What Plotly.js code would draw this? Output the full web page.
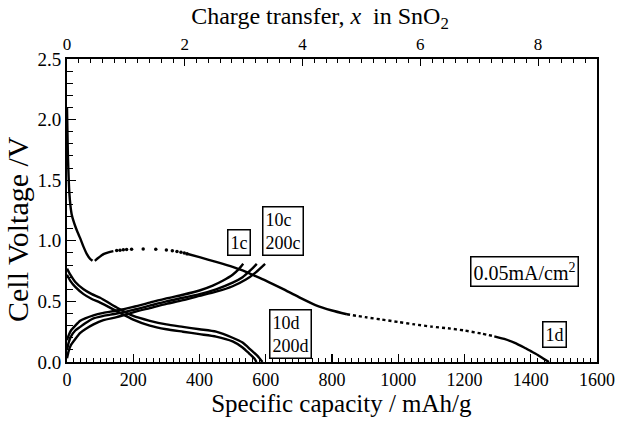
<!DOCTYPE html>
<html>
<head>
<meta charset="utf-8">
<script src="https://cdn.plot.ly/plotly-3.0.1.min.js"></script>
<style>html,body{margin:0;padding:0;background:#fff;}#chart{width:629px;height:424px;}</style>
</head>
<body>
<div id="chart"></div>
<script>
// ---- Data (specific capacity in mAh/g, cell voltage in V) ----
// First discharge (1d), split by drawing style of the original
var d1StartCap = [0, 1, 2, 3, 5, 7, 10, 14, 20, 25, 32, 40, 50, 60, 70, 77];
var d1StartV   = [2.1, 1.95, 1.8, 1.68, 1.52, 1.4, 1.3, 1.22, 1.16, 1.12, 1.07, 1.02, 0.95, 0.89, 0.85, 0.835];
var d1RiseCap  = [84, 95, 110, 125, 140];
var d1RiseV    = [0.835, 0.86, 0.89, 0.905, 0.915];
var d1DotCap   = [150, 160, 170, 180, 195, 230, 268, 300, 318, 332, 344, 354, 362];
var d1DotV     = [0.92, 0.923, 0.926, 0.928, 0.93, 0.932, 0.93, 0.925, 0.918, 0.912, 0.905, 0.899, 0.893];
var d1MidCap   = [362, 400, 450, 500, 530, 560, 600, 650, 700, 750, 800, 845];
var d1MidV     = [0.893, 0.865, 0.826, 0.785, 0.755, 0.72, 0.672, 0.605, 0.535, 0.47, 0.425, 0.394];
var d1TailCap  = [845, 900, 950, 1000, 1050, 1100, 1150, 1200, 1250, 1290];
var d1TailV    = [0.394, 0.37, 0.35, 0.33, 0.31, 0.292, 0.278, 0.26, 0.235, 0.212];
var d1EndCap   = [1290, 1320, 1350, 1380, 1400, 1420, 1440, 1455];
var d1EndV     = [0.212, 0.19, 0.16, 0.12, 0.09, 0.06, 0.025, 0];

// Charge curves
var c1Cap   = [0, 5, 12, 25, 40, 55, 80, 110, 150, 200, 250, 300, 350, 400, 440, 470, 500, 520, 532];
var c1V     = [0.18, 0.22, 0.26, 0.3, 0.34, 0.36, 0.385, 0.405, 0.425, 0.455, 0.49, 0.525, 0.555, 0.59, 0.63, 0.67, 0.72, 0.77, 0.81];
var c10Cap  = [0, 5, 12, 25, 40, 55, 80, 110, 150, 200, 250, 300, 350, 400, 450, 500, 530, 555, 573];
var c10V    = [0.1, 0.16, 0.21, 0.26, 0.29, 0.32, 0.36, 0.38, 0.4, 0.43, 0.465, 0.5, 0.53, 0.56, 0.6, 0.655, 0.7, 0.76, 0.81];
var c200Cap = [0, 5, 12, 25, 40, 55, 80, 110, 150, 200, 250, 300, 350, 400, 450, 500, 540, 570, 598];
var c200V   = [0.03, 0.09, 0.14, 0.19, 0.24, 0.27, 0.31, 0.345, 0.37, 0.41, 0.445, 0.48, 0.51, 0.545, 0.58, 0.625, 0.68, 0.74, 0.81];

// Later discharge curves
var d10Cap  = [0, 10, 25, 50, 75, 100, 150, 200, 250, 300, 350, 400, 450, 500, 530, 550, 565, 572];
var d10V    = [0.72, 0.67, 0.62, 0.56, 0.52, 0.49, 0.42, 0.35, 0.3, 0.27, 0.25, 0.23, 0.21, 0.17, 0.12, 0.07, 0.03, 0];
var d200Cap = [0, 10, 25, 50, 75, 100, 150, 200, 250, 300, 350, 400, 450, 500, 530, 555, 575, 590];
var d200V   = [0.77, 0.72, 0.66, 0.6, 0.56, 0.53, 0.45, 0.38, 0.34, 0.31, 0.29, 0.27, 0.25, 0.2, 0.16, 0.1, 0.05, 0];

// Axis ranges and tick labels
var capRange = [0, 1600];
var xRange   = [0, 9.0];   // charge transfer x in SnO2 (1600 mAh/g ~ 9 Li)
var vRange   = [0, 2.5];
var capTickVals = [0, 200, 400, 600, 800, 1000, 1200, 1400, 1600];
var capTickText = ['0', '200', '400', '600', '800', '1000', '1200', '1400', '1600'];
var xTickVals = [0, 2, 4, 6, 8];
var xTickText = ['0', '2', '4', '6', '8'];
var vTickVals = [0, 0.5, 1.0, 1.5, 2.0, 2.5];
var vTickText = ['0.0', '0.5', '1.0', '1.5', '2.0', '2.5'];

var labels = [
  {text: '1c', cap: 519, v: 0.99, size: 18},
  {text: '10c<br>200c', cap: 652, v: 1.08, size: 18},
  {text: '10d<br>200d', cap: 676, v: 0.227, size: 18},
  {text: '1d', cap: 1473, v: 0.223, size: 18},
  {text: '0.05mA/cm<sup>2</sup>', cap: 1380, v: 0.745, size: 20}
];

var FONT = 'Liberation Serif';
var lw = 2.4;
function lineTrace(x, y, dash) {
  return {x: x, y: y, type: 'scatter', mode: 'lines', line: {color: '#000', width: lw, dash: dash || 'solid', shape: 'spline', smoothing: 0.6}, hoverinfo: 'skip', showlegend: false};
}

var traces = [
  lineTrace(d1StartCap, d1StartV),
  lineTrace(d1RiseCap, d1RiseV),
  {x: d1DotCap, y: d1DotV, type: 'scatter', mode: 'markers', marker: {color: '#000', size: 3.5}, hoverinfo: 'skip', showlegend: false},
  lineTrace(d1MidCap, d1MidV),
  lineTrace(d1TailCap, d1TailV, 'dot'),
  lineTrace(d1EndCap, d1EndV),
  lineTrace(c1Cap, c1V),
  lineTrace(c10Cap, c10V),
  lineTrace(c200Cap, c200V),
  lineTrace(d10Cap, d10V),
  lineTrace(d200Cap, d200V),
  // invisible trace to activate the top axis
  {x: xRange, y: [0, 0], xaxis: 'x2', yaxis: 'y', type: 'scatter', mode: 'lines', line: {width: 0}, hoverinfo: 'skip', showlegend: false}
];

var annotations = labels.map(function (l) {
  return {x: l.cap, y: l.v, xref: 'x', yref: 'y', text: l.text, showarrow: false,
    font: {family: FONT, size: l.size, color: '#000'}, bordercolor: '#000', borderwidth: 1.5, borderpad: 2, bgcolor: '#fff', align: 'left'};
});

var layout = {
  width: 629, height: 424,
  margin: {l: 67, r: 32, t: 59, b: 62, pad: 0},
  paper_bgcolor: '#fff', plot_bgcolor: '#fff',
  font: {family: FONT, size: 18, color: '#000'},
  showlegend: false,
  xaxis: {
    range: capRange, tickmode: 'array', tickvals: capTickVals, ticktext: capTickText,
    ticks: 'inside', ticklen: 8, tickwidth: 1.2, tickcolor: '#000',
    minor: {tickmode: 'linear', tick0: 0, dtick: 20, ticks: 'inside', ticklen: 4, tickwidth: 1, tickcolor: '#000'},
    showgrid: false, zeroline: false, showline: true, linecolor: '#000', linewidth: 2,
    tickfont: {family: FONT, size: 18, color: '#000'},
    title: {text: '&nbsp;&nbsp;&nbsp;Specific capacity / mAh/g', font: {family: FONT, size: 25}, standoff: 6}
  },
  xaxis2: {
    range: xRange, overlaying: 'x', side: 'top', anchor: 'y',
    tickmode: 'array', tickvals: xTickVals, ticktext: xTickText,
    ticks: 'inside', ticklen: 7, tickwidth: 1.2, tickcolor: '#000',
    minor: {tickmode: 'linear', tick0: 0, dtick: 0.2, ticks: 'inside', ticklen: 4, tickwidth: 1, tickcolor: '#000'},
    showgrid: false, zeroline: false, showline: true, linecolor: '#000', linewidth: 2,
    tickfont: {family: FONT, size: 17, color: '#000'},
    title: {text: 'Charge transfer, <i>x</i>  in SnO<sub>2</sub>&nbsp;&nbsp;&nbsp;&nbsp;', font: {family: FONT, size: 24}, standoff: 4}
  },
  yaxis: {
    range: vRange, tickmode: 'array', tickvals: vTickVals, ticktext: vTickText,
    ticks: 'inside', ticklen: 9, tickwidth: 1.2, tickcolor: '#000',
    minor: {tickmode: 'linear', tick0: 0, dtick: 0.1, ticks: 'inside', ticklen: 6, tickwidth: 1, tickcolor: '#000'},
    showgrid: false, zeroline: false, showline: true, mirror: true, linecolor: '#000', linewidth: 2,
    tickfont: {family: FONT, size: 19, color: '#000'}, ticklabelstandoff: 0,
    title: {text: 'Cell Voltage /V&nbsp;&nbsp;&nbsp;&nbsp;&nbsp;', font: {family: FONT, size: 30}, standoff: 0}
  },
  annotations: annotations
};

Plotly.newPlot('chart', traces, layout, {displayModeBar: false, staticPlot: true});
</script>
</body>
</html>
